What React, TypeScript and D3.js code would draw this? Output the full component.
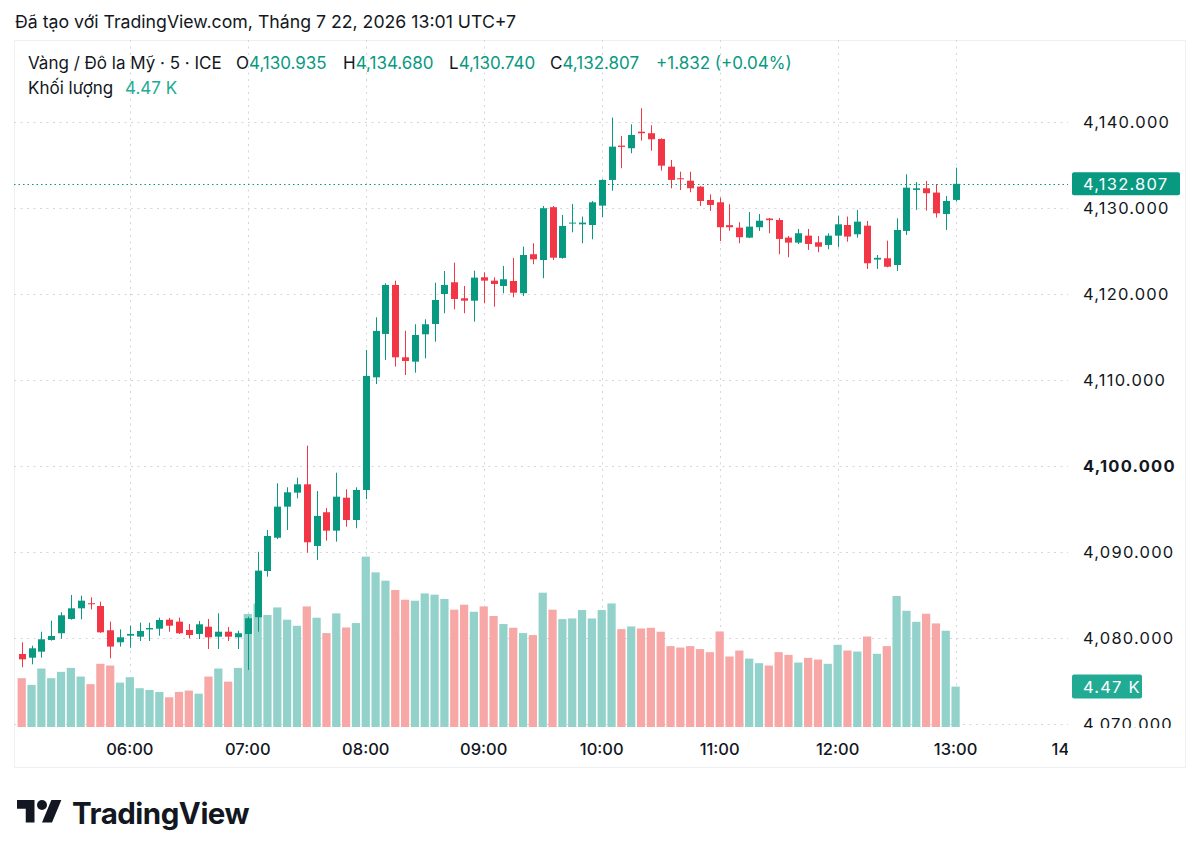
import React from 'react';
import * as d3 from 'd3';

// 5-minute bars, Vàng / Đô la Mỹ, 05:05 -> 13:00
const opens = [
  4078.14, 4077.71, 4078.41, 4079.77, 4080.55, 4082.21, 4083.45, 4084.04, 4083.72, 4080.90,
  4079.50, 4080.27, 4080.15, 4081.00, 4081.08, 4082.13, 4081.90, 4080.93, 4080.47, 4081.31,
  4080.15, 4080.73, 4080.08, 4080.47, 4082.41, 4087.79, 4091.66, 4095.27, 4096.90, 4097.87,
  4090.70, 4094.62, 4092.48, 4096.31, 4093.72, 4097.21, 4110.31, 4115.35, 4121.05, 4112.64,
  4112.13, 4115.31, 4116.51, 4120.00, 4121.36, 4119.50, 4119.22, 4121.94, 4121.55, 4120.93,
  4121.51, 4120.09, 4124.62, 4123.95, 4130.09, 4124.19, 4128.20, 4128.10, 4128.02, 4130.27,
  4133.26, 4137.25, 4136.94, 4138.87, 4138.69, 4138.02, 4134.80, 4133.45, 4133.17, 4132.48,
  4130.93, 4130.66, 4128.00, 4127.71, 4126.55, 4127.76, 4128.77, 4128.60, 4126.55, 4125.97,
  4126.78, 4126.01, 4125.70, 4126.78, 4128.02, 4126.94, 4127.94, 4124.00, 4124.15, 4123.37,
  4127.33, 4132.10, 4132.29, 4131.79, 4129.30, 4130.935,
];
const highs = [
  4079.50, 4079.10, 4080.73, 4082.01, 4082.99, 4085.00, 4084.92, 4084.73, 4084.22, 4081.90,
  4081.00, 4081.43, 4081.78, 4081.78, 4082.36, 4082.33, 4082.36, 4081.63, 4081.98, 4082.21,
  4082.87, 4081.27, 4080.85, 4082.48, 4090.03, 4092.56, 4097.99, 4097.52, 4098.64, 4102.36,
  4097.09, 4095.12, 4099.22, 4097.29, 4097.52, 4113.49, 4117.29, 4121.24, 4121.55, 4115.73,
  4116.48, 4117.06, 4121.31, 4122.67, 4123.64, 4120.93, 4122.71, 4122.52, 4121.94, 4123.26,
  4124.19, 4125.50, 4125.90, 4130.23, 4130.23, 4129.19, 4130.47, 4129.00, 4130.81, 4133.34,
  4140.50, 4138.37, 4139.73, 4141.59, 4139.62, 4138.10, 4135.58, 4134.22, 4134.22, 4132.56,
  4131.59, 4131.20, 4130.43, 4128.34, 4129.53, 4129.30, 4128.84, 4128.84, 4126.74, 4127.56,
  4127.56, 4126.74, 4127.06, 4129.10, 4129.00, 4129.77, 4128.49, 4124.53, 4126.20, 4128.80,
  4133.92, 4133.02, 4133.14, 4132.79, 4131.40, 4134.68,
];
const lows = [
  4076.60, 4076.94, 4077.71, 4079.69, 4079.92, 4082.13, 4082.17, 4083.33, 4080.60, 4077.64,
  4079.00, 4078.87, 4079.65, 4079.65, 4080.27, 4080.73, 4080.47, 4079.96, 4079.88, 4078.72,
  4078.72, 4079.65, 4078.72, 4076.28, 4080.73, 4087.13, 4091.50, 4092.56, 4096.24, 4089.92,
  4089.07, 4091.31, 4091.20, 4092.94, 4092.76, 4096.13, 4109.53, 4112.33, 4111.55, 4110.58,
  4110.85, 4112.52, 4114.45, 4117.76, 4118.22, 4117.76, 4116.78, 4118.92, 4118.52, 4120.08,
  4119.62, 4119.77, 4123.45, 4121.83, 4123.95, 4124.10, 4127.17, 4125.90, 4126.36, 4128.93,
  4132.01, 4134.62, 4136.36, 4137.83, 4136.66, 4134.34, 4132.29, 4132.09, 4131.83, 4130.23,
  4129.65, 4126.16, 4127.36, 4125.90, 4126.50, 4127.33, 4127.06, 4124.62, 4124.27, 4125.81,
  4125.12, 4124.85, 4125.20, 4125.43, 4126.08, 4126.55, 4122.91, 4122.91, 4123.10, 4122.67,
  4126.86, 4129.77, 4129.69, 4128.88, 4127.44, 4130.74,
];
const closes = [
  4077.52, 4078.80, 4079.85, 4080.23, 4082.64, 4083.45, 4084.34, 4083.92, 4080.66, 4079.00,
  4080.08, 4080.47, 4080.81, 4081.16, 4082.09, 4081.43, 4080.55, 4080.35, 4081.59, 4080.08,
  4080.73, 4080.15, 4080.55, 4082.29, 4087.83, 4091.86, 4095.27, 4096.94, 4097.87, 4091.13,
  4094.19, 4092.48, 4096.43, 4093.72, 4097.21, 4110.47, 4115.70, 4121.05, 4112.64, 4112.21,
  4115.23, 4116.48, 4119.30, 4121.05, 4119.42, 4119.22, 4121.90, 4121.55, 4121.16, 4121.71,
  4120.15, 4124.53, 4124.03, 4129.97, 4124.22, 4127.91, 4128.30, 4128.30, 4130.66, 4133.26,
  4137.13, 4137.10, 4138.49, 4138.69, 4137.99, 4134.92, 4133.26, 4133.34, 4132.29, 4130.81,
  4130.35, 4127.76, 4127.76, 4126.60, 4127.83, 4128.52, 4128.58, 4126.40, 4125.97, 4127.06,
  4125.81, 4125.50, 4126.78, 4128.10, 4126.67, 4128.41, 4123.57, 4124.20, 4123.17, 4127.44,
  4132.36, 4132.29, 4131.71, 4129.38, 4130.81, 4132.807,
];
// volume in thousands
const volumes = [
  5.40, 4.66, 6.47, 5.40, 6.10, 6.54, 5.58, 4.74, 6.99, 6.80,
  4.91, 5.51, 4.29, 4.10, 3.88, 3.29, 3.88, 4.03, 3.69, 5.58,
  6.47, 5.02, 6.54, 12.50, 13.67, 12.39, 13.23, 11.87, 11.20, 13.34,
  12.09, 10.39, 12.57, 11.01, 11.50, 18.85, 17.11, 16.19, 15.16, 14.08,
  13.97, 14.78, 14.64, 14.16, 12.98, 13.53, 12.75, 13.34, 12.28, 11.39,
  10.98, 10.39, 10.17, 14.86, 12.98, 11.94, 12.01, 12.94, 12.01, 12.94,
  13.67, 10.83, 11.12, 10.90, 10.98, 10.54, 8.95, 8.79, 8.95, 8.62,
  8.28, 10.57, 7.80, 8.46, 7.57, 7.06, 6.80, 8.28, 7.98, 7.13,
  7.65, 7.46, 6.99, 9.09, 8.46, 8.35, 10.01, 8.10, 8.95, 14.49,
  12.86, 11.64, 12.53, 11.46, 10.65, 4.47,
];

const firstBar = new Date(2026, 6, 22, 5, 5);
const barMinutes = 5;
const timeTicks = ['06:00', '07:00', '08:00', '09:00', '10:00', '11:00', '12:00', '13:00', '14:00'];
const priceTicks = [4070, 4080, 4090, 4100, 4110, 4120, 4130, 4140];
const boldTick = 4100;
const priceChange = 1.832;
const priceChangePct = 0.04;

const GREEN = '#089981';
const RED = '#f23645';
const VOL_GREEN = '#92d2cb';
const VOL_RED = '#f7a7a6';
const TEXT = '#131722';
const GRID = '#d3d6de';
const FONT = 'Inter, Roboto, sans-serif';

const W = 1200;
const H = 857;
const plot = { left: 14, right: 1068, top: 40, bottom: 727 };

const barTime = (i: number) => d3.timeMinute.offset(firstBar, i * barMinutes);

const App = () => {
  const n = closes.length;
  const bars = d3.range(n).map((i) => ({
    t: barTime(i),
    o: opens[i],
    h: highs[i],
    l: lows[i],
    c: closes[i],
    v: volumes[i],
  }));

  const x = d3.scaleTime()
    .domain([bars[0].t, bars[n - 1].t])
    .range([21.7, 955.6]);
  const step = x(barTime(1)) - x(barTime(0));

  const y = d3.scaleLinear()
    .domain([4069.65, 4149.53])
    .range([plot.bottom, plot.top]);

  const plotH = plot.bottom - plot.top;
  const yVol = d3.scaleLinear()
    .domain([0, d3.max(volumes) as number])
    .range([plot.bottom, plot.bottom - plotH * 0.248]);

  const parseHM = d3.timeParse('%Y-%m-%d %H:%M');
  const tickTimes = timeTicks.map((s) => parseHM(`2026-07-22 ${s}`) as Date);

  const fmtPrice = d3.format(',.3f');
  const last = bars[n - 1];
  const lastY = y(last.c);
  const lastVolY = yVol(last.v);

  const bodyW = 7;
  const volW = step - 1.6;

  return (
    <svg width={W} height={H} style={{ display: 'block', position: 'absolute', left: 0, top: 0 }}
      fontFamily={FONT}>
      <defs>
        <clipPath id="plotClip">
          <rect x={plot.left} y={plot.top} width={plot.right - plot.left} height={plotH + 60} />
        </clipPath>
        <clipPath id="axisClip">
          <rect x={plot.right} y={plot.top} width={120} height={plotH + 1} />
        </clipPath>
      </defs>
      <rect width={W} height={H} fill="#ffffff" />

      {/* header */}
      <text x={15} y={28} fontSize={17.7} fill={TEXT}>
        Đã tạo với TradingView.com, Tháng 7 22, 2026 13:01 UTC+7
      </text>

      {/* frame */}
      <rect x={14.5} y={40.5} width={1171} height={727} fill="none" stroke="#eef0f4" />

      {/* grid */}
      <g stroke={GRID} strokeDasharray="2 4.5">
        {priceTicks.map((p) => (
          <line key={p} x1={plot.left} x2={plot.right} y1={Math.round(y(p)) + 0.5} y2={Math.round(y(p)) + 0.5} />
        ))}
        {tickTimes.filter((t) => x(t) < plot.right).map((t, i) => (
          <line key={i} x1={Math.round(x(t)) + 0.5} x2={Math.round(x(t)) + 0.5} y1={plot.top} y2={plot.bottom} />
        ))}
      </g>

      {/* volume */}
      <g>
        {bars.map((d, i) => (
          <rect key={i} x={x(d.t) - volW / 2} y={yVol(d.v)} width={volW} height={plot.bottom - yVol(d.v)}
            fill={d.c >= d.o ? VOL_GREEN : VOL_RED} />
        ))}
      </g>

      {/* candles */}
      <g>
        {bars.map((d, i) => {
          const col = d.c >= d.o ? GREEN : RED;
          const cx = Math.round(x(d.t)) + 0.5;
          const top = y(Math.max(d.o, d.c));
          const bot = y(Math.min(d.o, d.c));
          return (
            <g key={i}>
              <line x1={cx} x2={cx} y1={y(d.h)} y2={y(d.l)} stroke={col} strokeWidth={1} />
              <rect x={cx - bodyW / 2} y={top} width={bodyW} height={Math.max(1, bot - top)} fill={col} />
            </g>
          );
        })}
      </g>

      {/* last price line */}
      <line x1={plot.left} x2={plot.right} y1={Math.round(lastY) + 0.5} y2={Math.round(lastY) + 0.5}
        stroke={GREEN} strokeDasharray="1.5 3" />

      {/* price axis labels */}
      <g fontSize={16.5} fill={TEXT} clipPath="url(#axisClip)">
        {priceTicks.map((p) => (
          <text key={p} x={1083} y={y(p)} dy="0.36em" fontWeight={p === boldTick ? 700 : 400}
            letterSpacing={1.2}>
            {fmtPrice(p)}
          </text>
        ))}
      </g>

      {/* last price tag */}
      <rect x={1072} y={lastY - 11.5} width={108} height={23} rx={2} fill={GREEN} />
      <text x={1083} y={lastY} dy="0.36em" fontSize={16.5} fill="#ffffff" letterSpacing={1.2}>
        {fmtPrice(last.c)}
      </text>

      {/* last volume tag */}
      <rect x={1072} y={lastVolY - 12} width={70} height={24} rx={2} fill="#22ab94" />
      <text x={1083} y={lastVolY} dy="0.36em" fontSize={16.5} fill="#ffffff" letterSpacing={1.2}>
        {`${last.v.toFixed(2)} K`}
      </text>

      {/* time axis */}
      <g clipPath="url(#plotClip)" fontSize={16.5} fontWeight={500} fill={TEXT} textAnchor="middle">
        {tickTimes.map((t, i) => (
          <text key={i} x={x(t)} y={755}>{timeTicks[i]}</text>
        ))}
      </g>

      {/* legend */}
      <g fontSize={17}>
        <text x={28} y={69} fill={TEXT}>Vàng / Đô la Mỹ · 5 · ICE</text>
        <text x={236} y={69} fill={TEXT}>O<tspan fill={GREEN}>{fmtPrice(last.o)}</tspan></text>
        <text x={343} y={69} fill={TEXT}>H<tspan fill={GREEN}>{fmtPrice(last.h)}</tspan></text>
        <text x={449} y={69} fill={TEXT}>L<tspan fill={GREEN}>{fmtPrice(last.l)}</tspan></text>
        <text x={550} y={69} fill={TEXT}>C<tspan fill={GREEN}>{fmtPrice(last.c)}</tspan></text>
        <text x={656} y={69} fill={GREEN}>{`+${priceChange.toFixed(3)} (+${priceChangePct.toFixed(2)}%)`}</text>
        <text x={28} y={94} fill={TEXT}>Khối lượng</text>
        <text x={125} y={94} fill="#22ab94">{`${last.v.toFixed(2)} K`}</text>
      </g>

      {/* logo */}
      <g transform="translate(17,795) scale(1.25)" fill={TEXT}>
        <path d="M14 22H7V11H0V4h14v18zM28 22h-8l7.5-18h8L28 22z" />
        <circle cx={20} cy={8} r={4} />
      </g>
      <text x={72} y={824} fontSize={29.5} fontWeight={700} fill={TEXT} letterSpacing={-0.5}>TradingView</text>
    </svg>
  );
};

export default App;
